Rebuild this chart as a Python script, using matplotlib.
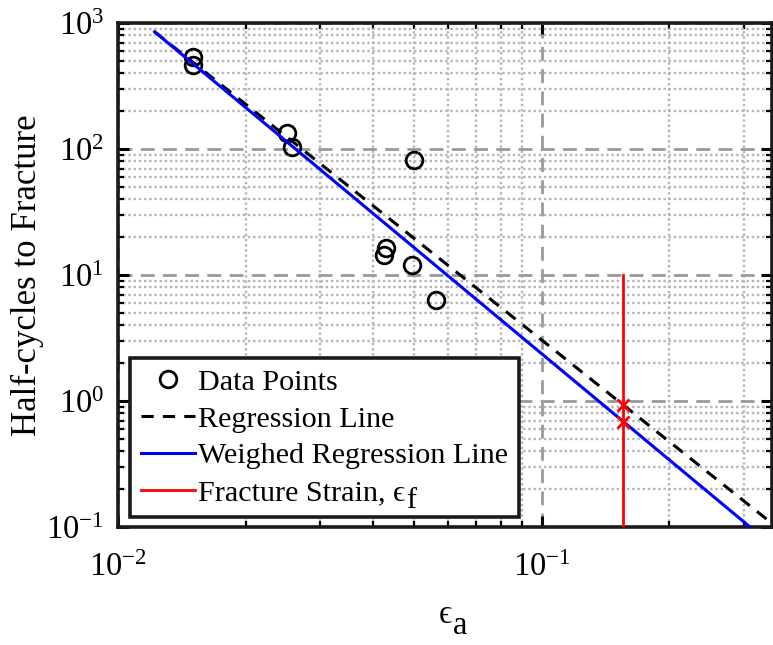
import numpy as np
import matplotlib
matplotlib.use("Agg")
import matplotlib.pyplot as plt
from matplotlib.ticker import LogLocator, NullFormatter
from matplotlib.transforms import offset_copy

plt.rcParams['font.family'] = ['Liberation Serif', 'STIXGeneral', 'DejaVu Serif']
plt.rcParams['mathtext.fontset'] = 'stix'
plt.rcParams['axes.unicode_minus'] = False

# Measured strain amplitudes and half-cycles to fracture
strain_amp = [0.0150, 0.0150, 0.0250, 0.0257, 0.0500, 0.0430, 0.0425, 0.0494, 0.0563]
half_cycles = [540, 462, 134, 104, 81.8, 16.4, 14.4, 12.0, 6.34]

# Power-law fits N = C * eps^b  (log10 C, b)
reg_logC, reg_b = -2.192, -2.677
wreg_logC, wreg_b = -2.420, -2.796

# Strain range over which the fitted lines are drawn
fit_strain = [0.0122, 0.40]

# Fracture strain and the extent of its marker line
frac_strain = 0.156
frac_span = [10.0, 0.1]

x_limits = [0.01, 0.35]
y_limits = [0.1, 1000]

FS = 23.5
EPS = '\u03f5'

fig = plt.figure(figsize=(7.73, 6.45), dpi=100)
ax = fig.add_axes([118 / 773, (645 - 527) / 645, 654 / 773, 504 / 645])
ax.set_xscale('log')
ax.set_yscale('log')
ax.set_xlim(x_limits)
ax.set_ylim(y_limits)

# grid styling
ax.grid(True, which='major', linestyle=(0, (5, 3)), color='#999999', linewidth=2.0)
ax.grid(True, which='minor', linestyle=(0, (1, 1.2)), color='#b5b5b5', linewidth=1.7)
ax.set_axisbelow(True)

ax.plot(strain_amp, half_cycles, linestyle='none', marker='o', markersize=12,
        markerfacecolor='none', markeredgecolor='black', markeredgewidth=2.0,
        label='Data Points', zorder=3)

xs = np.array(fit_strain)
ax.plot(xs, 10 ** reg_logC * xs ** reg_b, linestyle=(0, (4, 3)), color='black',
        linewidth=2.2, label='Regression Line', zorder=4)
ax.plot(xs, 10 ** wreg_logC * xs ** wreg_b, color='#0000ff', linewidth=2.2,
        label='Weighed Regression Line', zorder=5)
ax.plot([frac_strain, frac_strain], frac_span, color='#ff0000', linewidth=2.0,
        label='Fracture Strain, ' + EPS, zorder=6)
ax.plot([frac_strain, frac_strain],
        [10 ** reg_logC * frac_strain ** reg_b, 10 ** wreg_logC * frac_strain ** wreg_b],
        linestyle='none', marker='x', markersize=8, markeredgewidth=2.0,
        color='#ff0000', zorder=7)

ax.xaxis.set_major_locator(LogLocator(base=10, numticks=10))
ax.yaxis.set_major_locator(LogLocator(base=10, numticks=10))
ax.xaxis.set_minor_locator(LogLocator(base=10, subs=np.arange(2, 10), numticks=20))
ax.yaxis.set_minor_locator(LogLocator(base=10, subs=np.arange(2, 10), numticks=20))
ax.xaxis.set_minor_formatter(NullFormatter())
ax.yaxis.set_minor_formatter(NullFormatter())

ax.tick_params(which='both', direction='in', top=True, right=True, colors='black',
               labelsize=FS)
ax.tick_params(which='major', length=8, width=2.2)
ax.tick_params(axis='x', which='major', pad=18)
ax.tick_params(axis='y', which='major', pad=10)
ax.tick_params(which='minor', length=4.5, width=1.6)
for s in ax.spines.values():
    s.set_linewidth(2.6)
    s.set_color('#1a1a1a')

ax.set_xlabel(EPS, fontsize=FS, labelpad=12)
ax.set_ylabel('Half-cycles to Fracture', fontsize=FS + 1.5, labelpad=2)

leg = ax.legend(loc='lower left', bbox_to_anchor=(0.018, 0.02), fontsize=21.7,
                frameon=True, fancybox=False, framealpha=1, edgecolor='#1a1a1a',
                borderpad=0.36, labelspacing=0.32, handlelength=1.8, handletextpad=0.1,
                borderaxespad=0)
leg.get_frame().set_linewidth(2.6)

# full-size, lowered subscripts after the epsilon symbols
fig.canvas.draw()
renderer = fig.canvas.get_renderer()

def add_subscript(text_artist, sub, size, drop_px):
    bb = text_artist.get_window_extent(renderer)
    tr = offset_copy(fig.transFigure, fig=fig, x=0, y=0, units='dots')
    fig.text((bb.x1 + 1) / fig.bbox.width, (bb.y0 - drop_px) / fig.bbox.height, sub,
             fontsize=size, ha='left', va='bottom', transform=tr, zorder=10)

add_subscript(ax.xaxis.label, 'a', FS, 11)
add_subscript(leg.get_texts()[3], 'f', 21.7, 8)

fig.savefig('out.png', dpi=100)
